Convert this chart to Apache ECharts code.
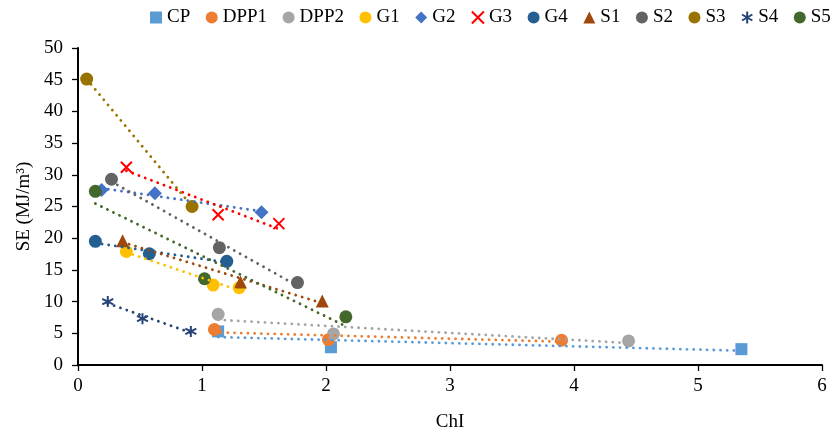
<!DOCTYPE html>
<html>
<head>
<meta charset="utf-8">
<script src="https://cdn.jsdelivr.net/npm/echarts@6/dist/echarts.min.js"></script>
<style>
  html, body { margin: 0; padding: 0; background: #fff; }
  #chart { width: 839px; height: 437px; }
</style>
</head>
<body>
<div id="chart"></div>
<script>
// Sample names, in legend order
const names = ['CP', 'DPP1', 'DPP2', 'G1', 'G2', 'G3', 'G4', 'S1', 'S2', 'S3', 'S4', 'S5'];

// ChI (x) and SE in MJ/m³ (y) for each sample
const xCP = [1.13, 2.04, 5.35];   const yCP = [5.3, 2.8, 2.5];
const xDPP1 = [1.10, 2.02, 3.90]; const yDPP1 = [5.6, 4.0, 3.9];
const xDPP2 = [1.13, 2.06, 4.44]; const yDPP2 = [8.0, 4.9, 3.8];
const xG1 = [0.39, 1.09, 1.30];   const yG1 = [17.9, 12.6, 12.2];
const xG2 = [0.19, 0.62, 1.48];   const yG2 = [27.6, 27.1, 24.1];
const xG3 = [0.39, 1.13, 1.62];   const yG3 = [31.2, 23.7, 22.3];
const xG4 = [0.14, 0.575, 1.20];  const yG4 = [19.5, 17.55, 16.35];
const xS1 = [0.36, 1.31, 1.97];   const yS1 = [19.6, 13.1, 10.1];
const xS2 = [0.27, 1.14, 1.77];   const yS2 = [29.3, 18.5, 13.0];
const xS3 = [0.07, 0.92];         const yS3 = [45.1, 25.0];
const xS4 = [0.24, 0.52, 0.91];   const yS4 = [10.0, 7.3, 5.3];
const xS5 = [0.14, 1.02, 2.16];   const yS5 = [27.4, 13.6, 7.6];

// Axis ticks
const xTicks = [0, 1, 2, 3, 4, 5, 6];
const yTicks = [0, 5, 10, 15, 20, 25, 30, 35, 40, 45, 50];

const xs = [xCP, xDPP1, xDPP2, xG1, xG2, xG3, xG4, xS1, xS2, xS3, xS4, xS5];
const ys = [yCP, yDPP1, yDPP2, yG1, yG2, yG3, yG4, yS1, yS2, yS3, yS4, yS5];

const colors = ['#5B9BD5', '#ED7D31', '#A5A5A5', '#FFC000', '#4472C4', '#FF0000',
                '#255E91', '#9E480E', '#636363', '#997300', '#264478', '#43682B'];

const CROSS = 'path://M0,0L10,10M10,0L0,10';
const STAR = 'path://M5,0L5,10M0.7,2.5L9.3,7.5M9.3,2.5L0.7,7.5';
const symbols = ['rect', 'circle', 'circle', 'circle', 'diamond', CROSS,
                 'circle', 'triangle', 'circle', 'circle', STAR, 'circle'];
const sizes = [12, 13, 13, 13, 14, 11, 13, 13, 13, 13, 11, 13];

// Least-squares straight line through a sample's points, spanning its x range
function linearTrend(x, y) {
  const n = x.length;
  const mx = x.reduce((a, b) => a + b, 0) / n;
  const my = y.reduce((a, b) => a + b, 0) / n;
  let sxy = 0, sxx = 0;
  for (let i = 0; i < n; i++) {
    sxy += (x[i] - mx) * (y[i] - my);
    sxx += (x[i] - mx) * (x[i] - mx);
  }
  const slope = sxy / sxx;
  const x0 = Math.min(...x), x1 = Math.max(...x);
  return [[x0, my + slope * (x0 - mx)], [x1, my + slope * (x1 - mx)]];
}

const FONT = '"Liberation Serif", "Times New Roman", serif';
const series = [];

names.forEach((name, i) => {
  series.push({
    name: name + ' trend',
    type: 'line',
    data: linearTrend(xs[i], ys[i]),
    showSymbol: false,
    silent: true,
    z: 3,
    lineStyle: { color: colors[i], width: 2.8, type: [0.1, 6.6], cap: 'round' }
  });
});

names.forEach((name, i) => {
  const stroked = symbols[i] === CROSS || symbols[i] === STAR;
  series.push({
    name: name,
    type: 'scatter',
    data: xs[i].map((v, k) => [v, ys[i][k]]),
    symbol: symbols[i],
    symbolSize: sizes[i],
    z: 2,
    itemStyle: stroked
      ? { color: 'rgba(0,0,0,0)', borderColor: colors[i], borderWidth: 2, opacity: 1 }
      : { color: colors[i], opacity: 1 }
  });
});

const chart = echarts.init(document.getElementById('chart'), null, { renderer: 'canvas' });
chart.setOption({
  animation: false,
  backgroundColor: '#fff',
  color: colors,
  legend: {
    data: names,
    left: 145,
    top: 3,
    width: 694,
    itemWidth: 12,
    itemHeight: 12,
    itemGap: 15.5,
    textStyle: { fontFamily: FONT, fontSize: 19, color: '#000' }
  },
  grid: { left: 78, right: 17, top: 48, bottom: 70 },
  xAxis: {
    type: 'value',
    min: xTicks[0],
    max: xTicks[xTicks.length - 1],
    interval: 1,
    name: 'ChI',
    nameLocation: 'middle',
    nameGap: 48,
    nameTextStyle: { fontFamily: FONT, fontSize: 19, color: '#000' },
    axisLine: { show: true, onZero: false, lineStyle: { color: '#000', width: 2 } },
    axisTick: { show: true, inside: false, length: 6, lineStyle: { color: '#000', width: 1.3 } },
    axisLabel: { fontFamily: FONT, fontSize: 19, color: '#000', margin: 12 },
    splitLine: { show: false }
  },
  yAxis: {
    type: 'value',
    min: yTicks[0],
    max: yTicks[yTicks.length - 1],
    interval: 5,
    name: 'SE (MJ/m³)',
    nameLocation: 'middle',
    nameGap: 44,
    nameTextStyle: { fontFamily: FONT, fontSize: 19, color: '#000' },
    axisLine: { show: true, onZero: false, lineStyle: { color: '#000', width: 2 } },
    axisTick: { show: true, inside: false, length: 6, lineStyle: { color: '#000', width: 1.3 } },
    axisLabel: { fontFamily: FONT, fontSize: 19, color: '#000', margin: 15 },
    splitLine: { show: false }
  },
  series: series
});
</script>
</body>
</html>
